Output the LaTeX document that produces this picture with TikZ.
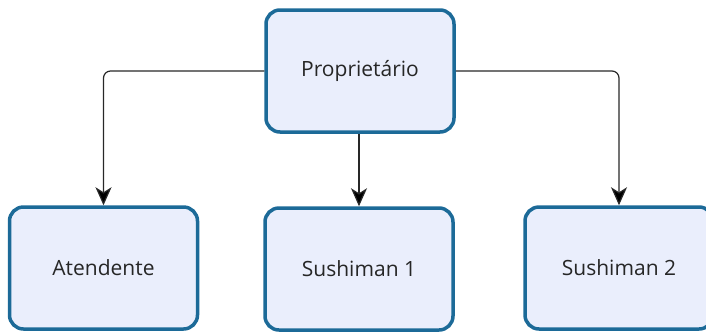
\documentclass[tikz,border=0pt]{standalone}
\usepackage{fontspec}
\setmainfont{Open Sans}
\usetikzlibrary{arrows.meta}

\definecolor{boxline}{RGB}{28,106,152}
\definecolor{boxfill}{RGB}{234,238,252}
\definecolor{linkgray}{RGB}{40,40,40}

\tikzset{
  role/.style={draw=boxline, fill=boxfill, line width=3.5pt, rounded corners=14pt,
    minimum width=188pt, minimum height=122pt, inner sep=0pt,
    font=\fontsize{21}{25}\selectfont, text=black!85},
  link/.style={draw=linkgray, line width=1.2pt, rounded corners=7pt,
    -{Stealth[length=18pt,width=16pt,inset=5pt,fill=black]}}
}

\begin{document}
\begin{tikzpicture}[x=1pt,y=-1pt]
  \useasboundingbox (0,0) rectangle (706,333);
  % owner on top
  \node[role] (dono) at (360,71) {Proprietário};
  % staff below
  \node[role] (atend) at (103.5,268) {Atendente};
  \node[role] (sushi1) at (359,269) {Sushiman 1};
  \node[role] (sushi2) at (619,268) {Sushiman 2};
  % links
  \draw[link] (dono.west) -| (atend.north);
  \draw[link] (dono.south -| sushi1.north) -- (sushi1.north);
  \draw[link] (dono.east) -| (sushi2.north);
\end{tikzpicture}
\end{document}
